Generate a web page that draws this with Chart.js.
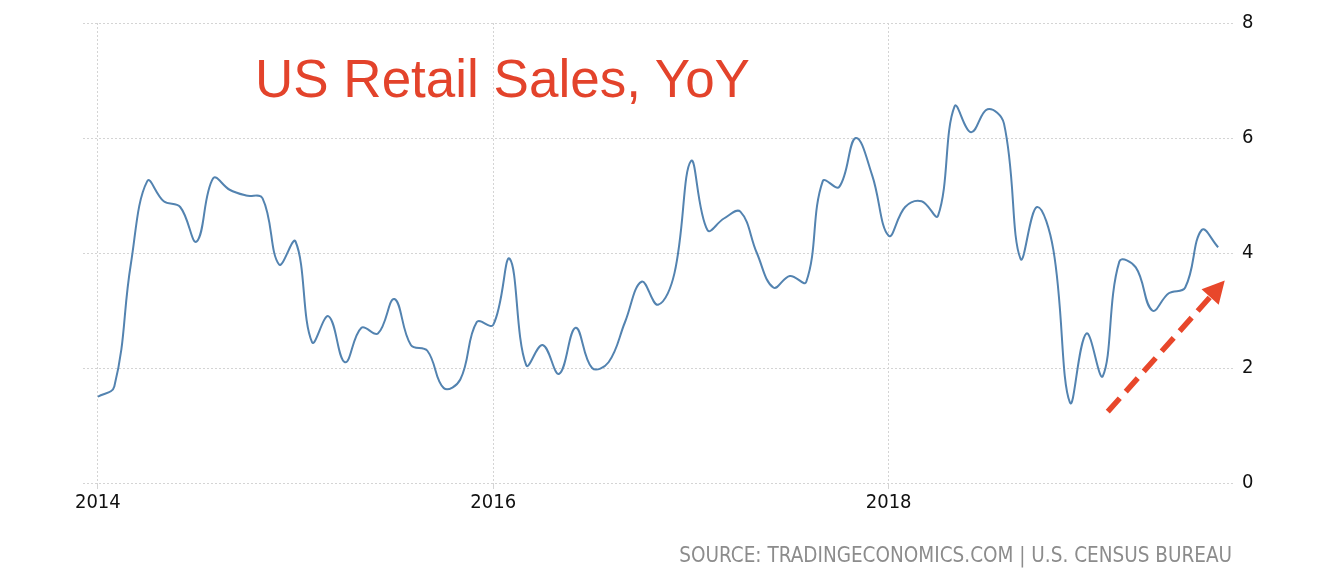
<!DOCTYPE html>
<html>
<head>
<meta charset="utf-8">
<script src="https://cdn.jsdelivr.net/npm/chart.js@4/dist/chart.umd.min.js"></script>
<style>
  html, body { margin: 0; padding: 0; background: #ffffff; }
  #wrap { position: relative; width: 1332px; height: 577px; overflow: hidden; }
  #c { position: absolute; left: 0; top: 0; }
  #title { position: absolute; left: 255px; top: 52px; font-family: "Liberation Sans", Arial, sans-serif; font-size: 53px; line-height: 53px; color: #E3432B; white-space: nowrap; }
  #source { position: absolute; right: 100px; top: 545px; font-family: "DejaVu Sans Condensed", "Liberation Sans Narrow", "DejaVu Sans", sans-serif; font-size: 20.5px; line-height: 20px; color: #8c8c8c; white-space: nowrap; }
</style>
</head>
<body>
<div id="wrap">
  <canvas id="c" width="1332" height="577"></canvas>
  <div id="title">US Retail Sales, YoY</div>
  <div id="source">SOURCE: TRADINGECONOMICS.COM | U.S. CENSUS BUREAU</div>
</div>
<script>
// ---- data (monthly, Jan 2014 .. Sep 2019) ----
const years = ["2014", "2015", "2016", "2017", "2018", "2019"];
const months = [];
years.forEach(y => { for (let m = 1; m <= 12; m++) months.push(y + "-" + String(m).padStart(2, "0")); });

const retailYoY = [
  1.5, 1.68, 3.8, 5.25, 4.9, 4.8, 4.2, 5.3, 5.1, 5.0, 4.95, 3.8,      // 2014
  4.2, 2.45, 2.9, 2.1, 2.7, 2.6, 3.2, 2.4, 2.3, 1.65, 1.8, 2.8,       // 2015
  2.75, 3.9, 2.05, 2.4, 1.9, 2.7, 2.0, 2.1, 2.8, 3.5, 3.1, 3.65,      // 2016
  5.6, 4.4, 4.6, 4.72, 4.0, 3.4, 3.6, 3.5, 5.25, 5.15, 6.0, 5.35,     // 2017
  4.3, 4.8, 4.9, 4.65, 6.55, 6.1, 6.5, 6.25, 3.9, 4.8, 4.05, 1.4,     // 2018
  2.6, 1.86, 3.85, 3.75, 3.0, 3.3, 3.4, 4.4, 4.1                      // 2019
];

const xTickLabels = ["2014", "2016", "2018"];
const yTickValues = [0, 2, 4, 6, 8];

// month index of each x tick label
const xTickIndex = xTickLabels.map(l => months.indexOf(l + "-01"));
const points = retailYoY.map((v, i) => ({ x: i, y: v }));

// annotation arrow (data units: month index, value)
const arrowFrom = { x: 61.3, y: 1.24 };
const arrowTo = { x: 68.4, y: 3.52 };

const arrowPlugin = {
  id: "trendArrow",
  afterDatasetsDraw(chart) {
    const xs = chart.scales.x, ys = chart.scales.y, ctx = chart.ctx;
    const x1 = xs.getPixelForValue(arrowFrom.x), y1 = ys.getPixelForValue(arrowFrom.y);
    const x2 = xs.getPixelForValue(arrowTo.x), y2 = ys.getPixelForValue(arrowTo.y);
    const dx = x2 - x1, dy = y2 - y1, len = Math.hypot(dx, dy);
    const ux = dx / len, uy = dy / len;
    const headLen = 22, headHalf = 11.5;
    const bx = x2 - ux * headLen, by = y2 - uy * headLen;
    ctx.save();
    ctx.strokeStyle = "#E8472B";
    ctx.fillStyle = "#E8472B";
    ctx.lineWidth = 5.5;
    ctx.setLineDash([18, 9]);
    ctx.lineCap = "butt";
    ctx.beginPath();
    ctx.moveTo(x1, y1);
    ctx.lineTo(bx + ux * 2, by + uy * 2);
    ctx.stroke();
    ctx.setLineDash([]);
    ctx.beginPath();
    ctx.moveTo(x2, y2);
    ctx.lineTo(bx - uy * headHalf, by + ux * headHalf);
    ctx.lineTo(bx + uy * headHalf, by - ux * headHalf);
    ctx.closePath();
    ctx.fill();
    ctx.restore();
  }
};

const tickFont = { family: "'DejaVu Sans Condensed', 'Liberation Sans Narrow', 'DejaVu Sans', sans-serif", size: 20 };

new Chart(document.getElementById("c"), {
  type: "line",
  data: {
    labels: months,
    datasets: [{
      label: "US Retail Sales YoY",
      data: points,
      borderColor: "#5383B0",
      borderWidth: 2,
      pointRadius: 0,
      pointHoverRadius: 0,
      fill: false,
      tension: 0.4,
      cubicInterpolationMode: "default"
    }]
  },
  options: {
    responsive: false,
    animation: false,
    devicePixelRatio: 1,
    layout: { padding: { left: 83, top: 23, right: 0, bottom: 0 } },
    plugins: { legend: { display: false }, tooltip: { enabled: false }, title: { display: false } },
    scales: {
      x: {
        type: "linear",
        min: -0.9,
        max: 68.9,
        afterBuildTicks(scale) { scale.ticks = xTickIndex.map(v => ({ value: v })); },
        afterFit(scale) { scale.height = 94; },
        ticks: {
          autoSkip: false,
          maxRotation: 0,
          padding: 2,
          color: "#111111",
          font: tickFont,
          callback(value) { const k = xTickIndex.indexOf(value); return k >= 0 ? xTickLabels[k] : ""; }
        },
        grid: { color: "#d4d4d4", lineWidth: 1, drawTicks: true, tickLength: 6 },
        border: { display: false, dash: [2, 2] }
      },
      y: {
        position: "right",
        min: 0,
        max: 8,
        afterBuildTicks(scale) { scale.ticks = yTickValues.map(v => ({ value: v })); },
        afterFit(scale) { scale.width = 99; },
        ticks: { padding: 9, color: "#111111", font: tickFont, callback: v => String(v) },
        grid: { color: "#d4d4d4", lineWidth: 1, drawTicks: false },
        border: { display: false, dash: [2, 2] }
      }
    }
  },
  plugins: [arrowPlugin]
});
</script>
</body>
</html>
